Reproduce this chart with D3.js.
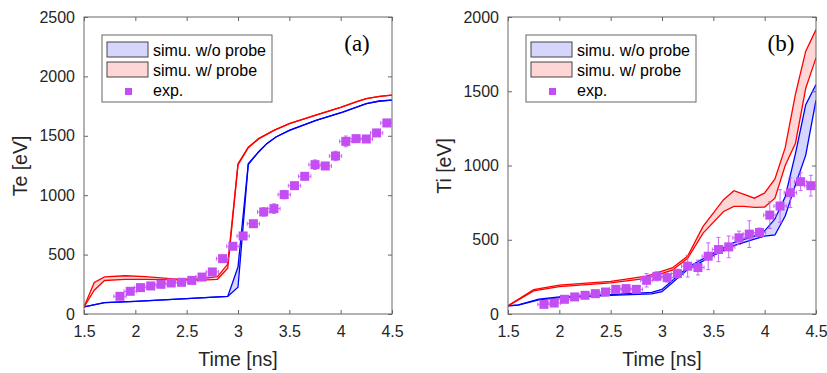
<!DOCTYPE html>
<html>
<head>
<meta charset="utf-8">
<script src="https://cdn.jsdelivr.net/npm/d3@7"></script>
<style>
  body { margin: 0; background: #fff; }
  svg { display: block; font-family: "Liberation Sans", Arial, sans-serif; }
</style>
</head>
<body>
<div id="figure"></div>
<script>
// ---- panel (a): Te ----
const teBlueT = [1.5, 1.7, 2.0, 2.5, 2.9, 3.0, 3.1, 3.2, 3.28, 3.37, 3.5, 3.76, 4.02, 4.25, 4.38, 4.5]
const teBlueUp = [60, 95, 107, 130, 148, 395, 1265, 1364, 1434, 1490, 1546, 1630, 1700, 1770, 1793, 1800]
const teBlueLo = [60, 95, 107, 130, 148, 225, 1258, 1364, 1434, 1490, 1546, 1630, 1700, 1770, 1793, 1800]

const teRedT = [1.5, 1.6, 1.7, 1.9, 2.1, 2.4, 2.6, 2.8, 2.9, 3.0, 3.1, 3.2, 3.35, 3.5, 3.75, 4.0, 4.15, 4.25, 4.38, 4.5]
const teRedUp = [60, 265, 312, 322, 315, 293, 293, 314, 420, 1265, 1405, 1476, 1546, 1602, 1672, 1740, 1785, 1812, 1832, 1842]
const teRedLo = [60, 200, 282, 292, 292, 288, 283, 292, 385, 1255, 1400, 1474, 1546, 1602, 1672, 1740, 1785, 1812, 1832, 1842]

const expT = [1.85, 1.95, 2.05, 2.15, 2.25, 2.35, 2.45, 2.55, 2.65, 2.75, 2.85, 2.95, 3.05, 3.15, 3.25, 3.35, 3.45, 3.55, 3.65, 3.75, 3.85, 3.95, 4.05, 4.15, 4.25, 4.35, 4.45]
const teExp = [149, 191, 222, 236, 250, 261, 267, 283, 311, 354, 466, 570, 657, 760, 859, 887, 1005, 1080, 1159, 1257, 1246, 1330, 1453, 1476, 1473, 1524, 1608]
const teErr = [15, 20, 20, 20, 20, 20, 20, 20, 20, 25, 25, 25, 25, 25, 35, 40, 35, 30, 30, 40, 25, 40, 45, 25, 25, 30, 30]

// ---- panel (b): Ti ----
const tiBlueT = [1.5, 1.6, 1.8, 2.0, 2.5, 2.9, 3.0, 3.25, 3.5, 3.7, 3.9, 4.0, 4.1, 4.2, 4.3, 4.4, 4.5]
const tiBlueUp = [55, 62, 100, 115, 130, 145, 165, 315, 410, 480, 525, 560, 640, 790, 1080, 1410, 1545]
const tiBlueLo = [55, 60, 95, 110, 125, 135, 150, 300, 395, 460, 505, 525, 532, 660, 870, 1070, 1440]

const tiRedT = [1.5, 1.75, 2.0, 2.5, 2.85, 3.1, 3.25, 3.4, 3.6, 3.7, 3.8, 3.9, 4.0, 4.1, 4.2, 4.3, 4.4, 4.5]
const tiRedUp = [55, 165, 195, 220, 255, 310, 390, 590, 770, 830, 805, 780, 815, 910, 1120, 1480, 1770, 1915]
const tiRedLo = [55, 155, 185, 210, 240, 295, 375, 545, 690, 725, 725, 718, 720, 780, 1000, 1150, 1520, 1725]

const tiExp = [65, 74, 99, 115, 126, 137, 148, 166, 171, 166, 227, 254, 245, 272, 322, 313, 389, 434, 452, 513, 538, 549, 666, 727, 817, 891, 864]
const tiErr = [15, 15, 15, 15, 15, 15, 15, 15, 15, 15, 45, 30, 30, 30, 73, 50, 90, 82, 73, 45, 90, 30, 90, 110, 100, 60, 70]

const xTicks = [1.5, 2, 2.5, 3, 3.5, 4, 4.5]
const teTicks = [0, 500, 1000, 1500, 2000, 2500]
const tiTicks = [0, 500, 1000, 1500, 2000]
const legendLabels = ['simu. w/o probe', 'simu. w/ probe', 'exp.']
const xErr = 0.06

const width = 827, height = 373
const svg = d3.select('#figure').append('svg').attr('width', width).attr('height', height)

const purple = '#c24ef4'
const axisCol = '#666'
const textCol = '#262626'

function band(t, up, lo) {
  return t.map((d, i) => ({ t: d, up: up[i], lo: lo[i] }))
}

function drawPanel(o) {
  const g = svg.append('g')
  const x = d3.scaleLinear().domain([1.5, 4.5]).range([o.left, o.left + 308])
  const y = d3.scaleLinear().domain([0, o.ymax]).range([314, 17])
  const clipId = 'clip' + o.tag
  svg.append('clipPath').attr('id', clipId).append('rect')
    .attr('x', o.left).attr('y', 17).attr('width', 308).attr('height', 297)

  const data = g.append('g').attr('clip-path', 'url(#' + clipId + ')')

  // bands
  o.bands.forEach(b => {
    const rows = band(b.t, b.up, b.lo)
    data.append('path').datum(rows)
      .attr('d', d3.area().x(d => x(d.t)).y0(d => y(d.lo)).y1(d => y(d.up)))
      .attr('fill', b.fill)
    ;['up', 'lo'].forEach(k => {
      data.append('path').datum(rows)
        .attr('d', d3.line().x(d => x(d.t)).y(d => y(d[k])))
        .attr('fill', 'none').attr('stroke', b.stroke).attr('stroke-width', 1.3)
    })
  })

  // experiment with error bars
  const pts = expT.map((t, i) => ({ t: t, v: o.exp[i], e: o.err[i] }))
  const eb = data.append('g').attr('stroke', purple).attr('stroke-width', 1).attr('opacity', 0.85)
  pts.forEach(p => {
    eb.append('line').attr('x1', x(p.t)).attr('x2', x(p.t)).attr('y1', y(p.v - p.e)).attr('y2', y(p.v + p.e))
    eb.append('line').attr('x1', x(p.t) - 2).attr('x2', x(p.t) + 2).attr('y1', y(p.v - p.e)).attr('y2', y(p.v - p.e))
    eb.append('line').attr('x1', x(p.t) - 2).attr('x2', x(p.t) + 2).attr('y1', y(p.v + p.e)).attr('y2', y(p.v + p.e))
    eb.append('line').attr('x1', x(p.t - xErr)).attr('x2', x(p.t + xErr)).attr('y1', y(p.v)).attr('y2', y(p.v))
    eb.append('line').attr('x1', x(p.t - xErr)).attr('x2', x(p.t - xErr)).attr('y1', y(p.v) - 2).attr('y2', y(p.v) + 2)
    eb.append('line').attr('x1', x(p.t + xErr)).attr('x2', x(p.t + xErr)).attr('y1', y(p.v) - 2).attr('y2', y(p.v) + 2)
  })
  data.append('g').selectAll('rect').data(pts).enter().append('rect')
    .attr('x', d => x(d.t) - 4.5).attr('y', d => y(d.v) - 4.5)
    .attr('width', 9).attr('height', 9).attr('fill', purple)

  // axes (box with inside ticks)
  const ax = g.append('g')
  const bottom = ax.append('g').attr('transform', 'translate(0,314)')
    .call(d3.axisBottom(x).tickValues(xTicks).tickFormat(d3.format('')).tickSizeInner(-4).tickSizeOuter(0).tickPadding(12))
  const top = ax.append('g').attr('transform', 'translate(0,17)')
    .call(d3.axisTop(x).tickValues(xTicks).tickFormat('').tickSizeInner(-4).tickSizeOuter(0))
  const left = ax.append('g').attr('transform', 'translate(' + o.left + ',0)')
    .call(d3.axisLeft(y).tickValues(o.yTicks).tickFormat(d3.format('')).tickSizeInner(-4).tickSizeOuter(0).tickPadding(9))
  const right = ax.append('g').attr('transform', 'translate(' + (o.left + 308) + ',0)')
    .call(d3.axisRight(y).tickValues(o.yTicks).tickFormat('').tickSizeInner(-4).tickSizeOuter(0))
  ;[bottom, top, left, right].forEach(a => {
    a.select('.domain').remove()
    a.selectAll('line').attr('stroke', axisCol)
    a.selectAll('text').attr('fill', textCol).style('font-size', '16px').style('font-family', '"Liberation Sans", Arial, sans-serif')
  })
  ax.append('rect').attr('x', o.left).attr('y', 17).attr('width', 308).attr('height', 297)
    .attr('fill', 'none').attr('stroke', axisCol).attr('stroke-width', 1)

  // axis labels
  g.append('text').text('Time [ns]').attr('x', o.left + 154).attr('y', 366)
    .attr('text-anchor', 'middle').attr('fill', textCol).style('font-size', '19.5px')
  g.append('text').text(o.ylabel)
    .attr('transform', 'translate(' + (o.left - 57) + ',166) rotate(-90)')
    .attr('text-anchor', 'middle').attr('fill', textCol).style('font-size', '19.5px')

  // panel tag
  g.append('text').text('(' + o.tag + ')').attr('x', o.left + 273).attr('y', 51)
    .attr('text-anchor', 'middle').attr('fill', '#000')
    .style('font-family', '"Liberation Serif", "Times New Roman", serif').style('font-size', '23px')

  // legend
  const lx = o.left + 18, ly = 35
  const lg = g.append('g')
  lg.append('rect').attr('x', lx).attr('y', ly).attr('width', 170).attr('height', 67)
    .attr('fill', '#fff').attr('stroke', axisCol).attr('stroke-width', 1)
  const fills = [o.bands[0], o.bands[1]]
  fills.forEach((b, i) => {
    lg.append('rect').attr('x', lx + 5).attr('y', ly + 7 + i * 20).attr('width', 41).attr('height', 15)
      .attr('fill', b.fill).attr('stroke', '#444').attr('stroke-width', 1)
  })
  lg.append('rect').attr('x', lx + 23).attr('y', ly + 53).attr('width', 7).attr('height', 7).attr('fill', purple)
  legendLabels.forEach((l, i) => {
    lg.append('text').text(l).attr('x', lx + 51).attr('y', ly + 21 + i * 20)
      .attr('fill', '#000').style('font-size', '16px')
  })
}

drawPanel({
  tag: 'a', left: 84, ymax: 2500, yTicks: teTicks, ylabel: 'Te [eV]',
  bands: [
    { t: teBlueT, up: teBlueUp, lo: teBlueLo, fill: '#d6d6fd', stroke: '#0000ff' },
    { t: teRedT, up: teRedUp, lo: teRedLo, fill: '#ffd6d6', stroke: '#ff0000' }
  ],
  exp: teExp, err: teErr
})

drawPanel({
  tag: 'b', left: 508, ymax: 2000, yTicks: tiTicks, ylabel: 'Ti [eV]',
  bands: [
    { t: tiBlueT, up: tiBlueUp, lo: tiBlueLo, fill: '#d6d6fd', stroke: '#0000ff' },
    { t: tiRedT, up: tiRedUp, lo: tiRedLo, fill: '#ffd6d6', stroke: '#ff0000' }
  ],
  exp: tiExp, err: tiErr
})
</script>
</body>
</html>
